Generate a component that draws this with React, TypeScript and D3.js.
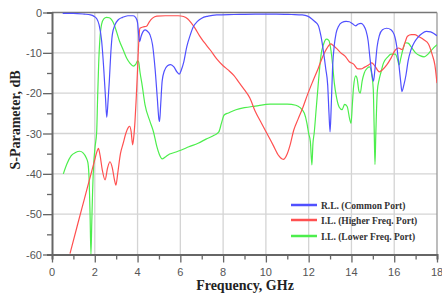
import { useRef, useEffect } from 'react';
import * as d3 from 'd3';

// R.L. (Common Port)
const rlFreq = [0.5, 1.0, 1.5, 1.8, 1.95, 2.1, 2.2, 2.32, 2.42, 2.5, 2.56, 2.62, 2.68, 2.75, 2.82, 2.95, 3.1, 3.3, 3.55, 3.8, 3.92, 4.0, 4.06, 4.1, 4.16, 4.25, 4.35, 4.45, 4.58, 4.7, 4.82, 4.92, 5.0, 5.03, 5.08, 5.15, 5.25, 5.4, 5.55, 5.7, 5.85, 5.95, 6.05, 6.15, 6.3, 6.45, 6.6, 6.8, 7.0, 7.3, 7.7, 8.5, 9.5, 10.5, 11.2, 11.7, 11.95, 12.15, 12.3, 12.45, 12.58, 12.7, 12.8, 12.89, 12.95, 13.0, 13.05, 13.12, 13.2, 13.28, 13.4, 13.55, 13.75, 13.9, 14.05, 14.2, 14.3, 14.45, 14.58, 14.68, 14.78, 14.86, 14.95, 15.03, 15.1, 15.2, 15.3, 15.45, 15.65, 15.85, 16.0, 16.12, 16.22, 16.3, 16.36, 16.45, 16.55, 16.65, 16.78, 16.95, 17.1, 17.3, 17.5, 17.7, 17.85, 18.0];
const rlVals = [-0.2, -0.2, -0.4, -0.6, -0.9, -1.6, -3, -7, -14, -21, -26, -22, -17, -10, -5.5, -3, -1.8, -1.2, -0.8, -0.8, -1.3, -2.5, -6, -7.2, -6, -4.8, -4.3, -4.6, -5.5, -8, -14, -21, -26.5, -27, -23, -17, -14.5, -13.2, -12.9, -13.5, -14.8, -15.3, -14.2, -12.5, -8.5, -5.8, -3.6, -2.2, -1.4, -0.9, -0.6, -0.5, -0.4, -0.4, -0.5, -0.6, -0.9, -1.6, -2.3, -3.2, -6, -10, -14, -18, -25, -29.6, -24, -13.4, -8, -5.2, -3.4, -2.5, -2.2, -2.3, -2.8, -3.3, -2.9, -2.7, -3.3, -4.5, -7, -11, -15, -17, -14, -8.5, -5.8, -4.3, -3.9, -4.3, -5.5, -8.5, -13, -17, -19.6, -18, -15.5, -12, -9.3, -7.3, -6.2, -5.2, -4.7, -4.8, -5.2, -5.8];

// I.L. (Higher Freq. Port)
const hiFreq = [0.84, 1.2, 1.5, 1.8, 2.0, 2.1, 2.17, 2.25, 2.35, 2.48, 2.6, 2.71, 2.82, 2.92, 2.99, 3.07, 3.2, 3.33, 3.45, 3.57, 3.63, 3.7, 3.77, 3.82, 3.88, 3.94, 3.99, 4.05, 4.11, 4.25, 4.42, 4.55, 4.7, 4.9, 5.3, 5.9, 6.15, 6.35, 6.5, 6.7, 6.9, 7.1, 7.4, 7.7, 8.0, 8.25, 8.5, 8.75, 9.0, 9.25, 9.5, 9.8, 10.1, 10.35, 10.6, 10.81, 11.0, 11.15, 11.3, 11.5, 11.72, 11.95, 12.19, 12.45, 12.66, 12.85, 13.04, 13.15, 13.3, 13.5, 13.7, 13.9, 14.1, 14.3, 14.45, 14.6, 14.8, 14.95, 15.1, 15.3, 15.45, 15.65, 15.85, 16.05, 16.2, 16.37, 16.5, 16.62, 16.8, 16.95, 17.15, 17.4, 17.6, 17.78, 17.9, 18.0];
const hiVals = [-59.8, -52.5, -46.5, -40.5, -36.5, -34.5, -33.7, -35.5, -39, -41.5, -38.5, -37, -38.5, -41.5, -42.8, -40, -35, -32.4, -30, -28.5, -28.2, -29.5, -32.8, -31, -27, -21, -15.4, -8, -3.9, -3.6, -3.4, -2.3, -1.4, -0.9, -0.8, -0.8, -1.0, -1.6, -2.5, -4, -5.8, -7.3, -9.3, -11.5, -13.2, -14.3, -15.6, -17.4, -19.2, -21.2, -24.5, -27.5, -30.5, -33, -35.5, -36.4, -35, -32.5, -29.2, -26.5, -23.7, -20.3, -17.1, -13.8, -10.9, -8.9, -7.8, -8.2, -8.9, -10, -10.8, -12.2, -12.8, -14, -14, -13.6, -13, -12.5, -13.3, -14.7, -14.2, -13, -11.3, -9.3, -8.8, -9.2, -7.5, -5.9, -5.5, -5.5, -6, -6.8, -7.8, -10.5, -13, -17.5];

// I.L. (Lower Freq. Port)
const loFreq = [0.53, 0.7, 0.9, 1.1, 1.3, 1.45, 1.6, 1.68, 1.74, 1.78, 1.82, 1.86, 1.9, 1.95, 2.01, 2.09, 2.13, 2.18, 2.24, 2.32, 2.42, 2.55, 2.68, 2.8, 2.9, 3.02, 3.15, 3.33, 3.5, 3.65, 3.8, 3.92, 4.0, 4.05, 4.12, 4.2, 4.35, 4.58, 4.74, 4.9, 5.02, 5.15, 5.3, 5.5, 5.8, 6.05, 6.4, 6.83, 7.2, 7.6, 7.8, 7.92, 8.05, 8.25, 8.6, 9.0, 9.5, 10.2, 11.0, 11.4, 11.6, 11.8, 11.92, 12.0, 12.08, 12.15, 12.2, 12.26, 12.35, 12.42, 12.5, 12.58, 12.7, 12.83, 12.94, 13.04, 13.12, 13.2, 13.3, 13.43, 13.56, 13.68, 13.8, 13.92, 13.98, 14.04, 14.1, 14.2, 14.27, 14.35, 14.41, 14.5, 14.6, 14.74, 14.85, 14.95, 15.02, 15.06, 15.1, 15.14, 15.21, 15.3, 15.37, 15.5, 15.7, 15.85, 16.05, 16.15, 16.23, 16.3, 16.4, 16.53, 16.65, 16.8, 17.0, 17.2, 17.4, 17.6, 17.8, 18.0];
const loVals = [-40, -37.5, -35.5, -34.7, -34.4, -34.8, -36, -37.3, -42, -50, -60, -52, -44, -37.5, -33.5, -29.5, -21.7, -13, -6.5, -2.9, -1.6, -1.2, -1.3, -1.9, -2.9, -4.8, -7, -9.3, -11.4, -12.6, -13.3, -12.8, -12, -12.3, -15, -17.5, -22.9, -27, -29.5, -33.2, -35.2, -36.3, -35.8, -35.1, -34.6, -34.1, -33.3, -32.4, -31.4, -30.4, -29.6, -27.5, -25.4, -24.9, -24.1, -23.6, -23.2, -22.7, -22.7, -23, -23.6, -25, -27.5, -30, -32, -37.8, -32.5, -29.8, -24, -19.5, -14.5, -10.5, -7.8, -6.6, -6.9, -9.3, -13, -17.5, -21, -23.5, -24.1, -22.8, -23.3, -26.5, -27.5, -23, -18.4, -15.7, -16.5, -19.5, -20, -17, -15, -13.8, -13.5, -15.5, -19, -28, -37.7, -30, -19.5, -16.5, -15, -12.5, -11, -10.3, -10.3, -11.5, -13, -11.5, -9.3, -7.5, -7.6, -8.6, -10, -10.7, -11, -10.2, -9, -8];

const xTicks = [0, 2, 4, 6, 8, 10, 12, 14, 16, 18];
const yTicks = [0, -10, -20, -30, -40, -50, -60];
const legendLabels = ['R.L. (Common Port)', 'I.L. (Higher Freq. Port)', 'I.L. (Lower Freq. Port)'];
const colors = ['#5050ff', '#ff5050', '#4cee4c'];

export default function App() {
  const svgRef = useRef<SVGSVGElement | null>(null);

  useEffect(() => {
    if (!svgRef.current) return;
    d3.select(svgRef.current).selectAll('*').remove();

    const width = 442;
    const height = 297;
    const margin = { top: 12.5, right: 5, bottom: 42.5, left: 52 };
    const innerWidth = width - margin.left - margin.right;
    const innerHeight = height - margin.top - margin.bottom;

    const x = d3.scaleLinear().domain([0, 18]).range([0, innerWidth]);
    const y = d3.scaleLinear().domain([-60, 0]).range([innerHeight, 0]);

    const svg = d3.select(svgRef.current);
    svg.append('rect').attr('width', width).attr('height', height).attr('fill', '#fff');

    const g = svg.append('g').attr('transform', `translate(${margin.left},${margin.top})`);

    // grid
    g.append('g')
      .selectAll('line')
      .data(xTicks.slice(1, -1))
      .enter()
      .append('line')
      .attr('x1', d => x(d)).attr('x2', d => x(d))
      .attr('y1', 0).attr('y2', innerHeight)
      .attr('stroke', '#d4d4d4').attr('stroke-width', 1.3);
    g.append('g')
      .selectAll('line')
      .data(yTicks.slice(1, -1))
      .enter()
      .append('line')
      .attr('y1', d => y(d)).attr('y2', d => y(d))
      .attr('x1', 0).attr('x2', innerWidth)
      .attr('stroke', '#d4d4d4').attr('stroke-width', 1.3);

    // frame (top/right)
    g.append('line').attr('x1', 0).attr('x2', innerWidth).attr('y1', 0).attr('y2', 0)
      .attr('stroke', '#777').attr('stroke-width', 1.5);
    g.append('line').attr('x1', innerWidth).attr('x2', innerWidth).attr('y1', 0).attr('y2', innerHeight)
      .attr('stroke', '#999').attr('stroke-width', 1.3);

    // curves
    g.append('clipPath').attr('id', 'plot-clip')
      .append('rect').attr('x', 0).attr('y', -1).attr('width', innerWidth).attr('height', innerHeight + 1);

    const line = d3.line<[number, number]>()
      .x(d => x(d[0]))
      .y(d => y(d[1]))
      .curve(d3.curveMonotoneX);

    const series: [number[], number[]][] = [[rlFreq, rlVals], [hiFreq, hiVals], [loFreq, loVals]];
    // blue on top
    [2, 1, 0].forEach(i => {
      const [fs, vs] = series[i];
      const pts = fs.map((f, j) => [f, vs[j]] as [number, number]);
      g.append('path')
        .attr('clip-path', 'url(#plot-clip)')
        .attr('d', line(pts))
        .attr('fill', 'none')
        .attr('stroke', colors[i])
        .attr('stroke-width', 1.2);
    });

    // axes
    const xAxis = g.append('g')
      .attr('transform', `translate(0,${innerHeight})`)
      .call(d3.axisBottom(x).tickValues(d3.range(0, 19, 1)).tickSize(5).tickFormat(() => ''));
    xAxis.select('.domain').attr('stroke', '#666').attr('stroke-width', 2);
    xAxis.selectAll('.tick line').attr('stroke', '#666').attr('stroke-width', 1.3)
      .attr('y2', (d: any) => (d % 2 === 0 ? 8 : 5));
    g.append('g')
      .selectAll('text')
      .data(xTicks)
      .enter()
      .append('text')
      .attr('x', d => x(d))
      .attr('y', innerHeight + 21.5)
      .attr('text-anchor', 'middle')
      .attr('font-family', 'Liberation Sans, Arial, sans-serif')
      .attr('font-size', 11)
      .attr('fill', '#555')
      .text(d => String(d));

    const yAxis = g.append('g')
      .call(d3.axisLeft(y).tickValues(d3.range(-60, 1, 5)).tickSize(5).tickFormat(() => ''));
    yAxis.select('.domain').attr('stroke', '#666').attr('stroke-width', 2);
    yAxis.selectAll('.tick line').attr('stroke', '#666').attr('stroke-width', 1.3)
      .attr('x2', (d: any) => (d % 10 === 0 ? -9 : -5));
    g.append('g')
      .selectAll('text')
      .data(yTicks)
      .enter()
      .append('text')
      .attr('x', -10)
      .attr('y', d => y(d) + 4)
      .attr('text-anchor', 'end')
      .attr('font-family', 'Liberation Sans, Arial, sans-serif')
      .attr('font-size', 11)
      .attr('fill', '#555')
      .text(d => String(d));

    // axis titles
    svg.append('text')
      .attr('x', 245)
      .attr('y', 290)
      .attr('text-anchor', 'middle')
      .attr('font-family', 'Liberation Serif, Times New Roman, serif')
      .attr('font-weight', 'bold')
      .attr('font-size', 14)
      .attr('fill', '#222')
      .text('Frequency, GHz');
    svg.append('text')
      .attr('transform', 'translate(20,120) rotate(-90)')
      .attr('text-anchor', 'middle')
      .attr('font-family', 'Liberation Serif, Times New Roman, serif')
      .attr('font-weight', 'bold')
      .attr('font-size', 14)
      .attr('fill', '#222')
      .text('S-Parameter, dB');

    // legend
    const legendY = [205, 220, 236];
    legendLabels.forEach((label, i) => {
      const row = svg.append('g').attr('transform', `translate(291,${legendY[i]})`);
      row.append('line').attr('x1', 0).attr('x2', 26).attr('y1', 0).attr('y2', 0)
        .attr('stroke', colors[i]).attr('stroke-width', 2.5);
      row.append('text')
        .attr('x', 30)
        .attr('y', 3.5)
        .attr('font-family', 'Liberation Serif, Times New Roman, serif')
        .attr('font-weight', 'bold')
        .attr('font-size', 9.5)
        .attr('fill', '#333')
        .text(label);
    });
  }, []);

  return (
    <svg ref={svgRef} width={442} height={297}
      style={{ position: 'absolute', left: 0, top: 0, display: 'block' }} />
  );
}
